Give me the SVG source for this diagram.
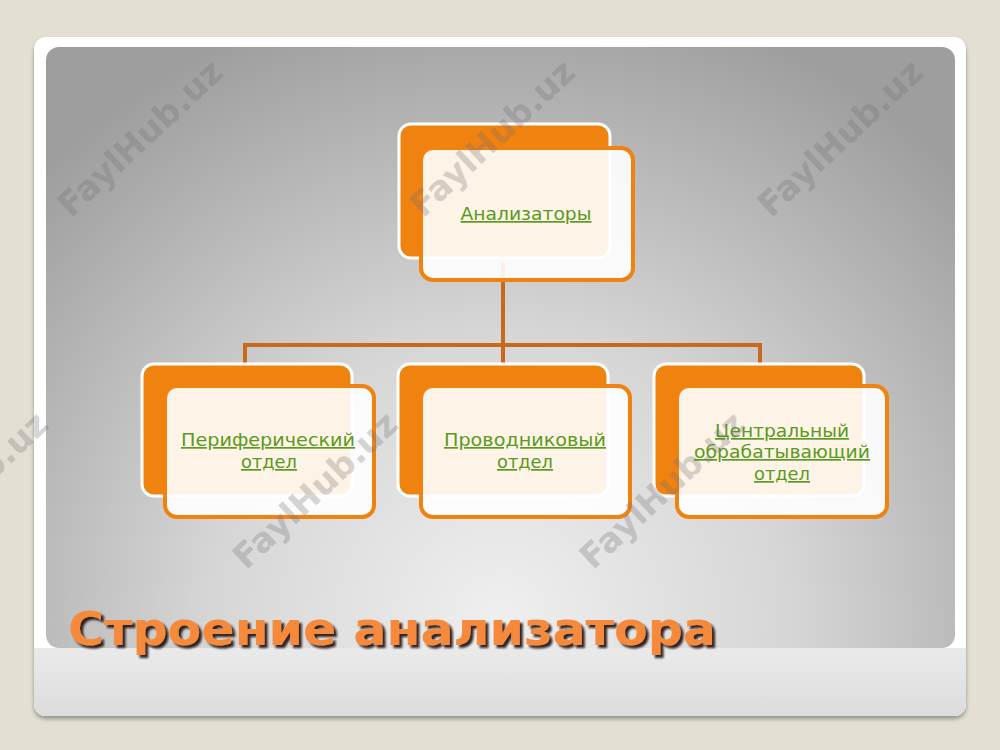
<svg xmlns="http://www.w3.org/2000/svg" width="1000" height="750" viewBox="0 0 1000 750">
  <defs>
    <radialGradient id="panelGrad" gradientUnits="userSpaceOnUse" cx="500" cy="620" r="640">
      <stop offset="0" stop-color="#efefef"/>
      <stop offset="0.45" stop-color="#d6d6d6"/>
      <stop offset="1" stop-color="#9e9e9e"/>
    </radialGradient>
    <linearGradient id="stripGrad" x1="0" y1="0" x2="0" y2="1">
      <stop offset="0" stop-color="#eaeaea"/>
      <stop offset="1" stop-color="#dcdcdc"/>
    </linearGradient>
    <filter id="shadow" x="-5%" y="-5%" width="110%" height="115%">
      <feDropShadow dx="0" dy="3" stdDeviation="2" flood-color="#000" flood-opacity="0.35"/>
    </filter>
    <filter id="tshadow" x="-5%" y="-20%" width="110%" height="150%">
      <feDropShadow dx="3" dy="3" stdDeviation="1" flood-color="#1a1008" flood-opacity="0.9"/>
    </filter>
  </defs>
  <style>
    .back { fill: #f0820f; stroke: #ffffff; stroke-width: 3; }
    .front { fill: #ffffff; fill-opacity: 0.9; stroke: #f0820f; stroke-width: 4; }
    .lbl { font-family: "DejaVu Sans", Verdana, sans-serif; font-size: 17px; fill: #5a9a20; text-anchor: middle; text-decoration: underline; }
    .wm { font-family: "DejaVu Sans", sans-serif; font-weight: bold; font-size: 34px; fill: #707070; fill-opacity: 0.3; text-anchor: middle; }
    .conn { stroke: #c8691c; stroke-width: 4; fill: none; }
    .title { font-family: "DejaVu Sans", Verdana, sans-serif; font-weight: bold; font-size: 47px; fill: #f58a3c; }
  </style>

  <rect x="0" y="0" width="1000" height="750" fill="#e3e0d3"/>

  <g id="card">
    <rect x="34" y="37" width="932" height="679" rx="12" fill="#ffffff" filter="url(#shadow)"/>
    <path d="M34 648 H966 V704 a12 12 0 0 1 -12 12 H46 a12 12 0 0 1 -12 -12 Z" fill="url(#stripGrad)"/>
    <rect x="46" y="47" width="909" height="601" rx="13" fill="url(#panelGrad)"/>
  </g>

  <g id="connectors">
    <line class="conn" x1="503" y1="262" x2="503" y2="347"/>
    <line class="conn" x1="243" y1="345" x2="762" y2="345"/>
    <line class="conn" x1="245" y1="343" x2="245" y2="366"/>
    <line class="conn" x1="503" y1="343" x2="503" y2="366"/>
    <line class="conn" x1="760" y1="343" x2="760" y2="366"/>
  </g>

  <g id="node-root">
    <rect class="back" x="399" y="124" width="211" height="134" rx="12"/>
    <rect class="front" x="421" y="148" width="212" height="132" rx="12"/>
    <text class="lbl" x="526" y="220" textLength="131" lengthAdjust="spacingAndGlyphs">Анализаторы</text>
  </g>

  <g id="node-peripheral">
    <rect class="back" x="142" y="364" width="210" height="132" rx="12"/>
    <rect class="front" x="165" y="386" width="209" height="131" rx="12"/>
    <text class="lbl" x="268" y="446" textLength="174" lengthAdjust="spacingAndGlyphs">Периферический</text>
    <text class="lbl" x="269" y="468" textLength="56" lengthAdjust="spacingAndGlyphs">отдел</text>
  </g>

  <g id="node-conductive">
    <rect class="back" x="398" y="364" width="210" height="132" rx="12"/>
    <rect class="front" x="421" y="386" width="209" height="131" rx="12"/>
    <text class="lbl" x="525" y="446" textLength="162" lengthAdjust="spacingAndGlyphs">Проводниковый</text>
    <text class="lbl" x="525" y="468" textLength="56" lengthAdjust="spacingAndGlyphs">отдел</text>
  </g>

  <g id="node-central">
    <rect class="back" x="654" y="364" width="210" height="132" rx="12"/>
    <rect class="front" x="677" y="386" width="210" height="131" rx="12"/>
    <text class="lbl" x="782" y="437" textLength="134" lengthAdjust="spacingAndGlyphs">Центральный</text>
    <text class="lbl" x="782" y="458" textLength="176" lengthAdjust="spacingAndGlyphs">обрабатывающий</text>
    <text class="lbl" x="782" y="480" textLength="56" lengthAdjust="spacingAndGlyphs">отдел</text>
  </g>

  <g id="title">
    <text class="title" x="68" y="645" filter="url(#tshadow)" textLength="648" lengthAdjust="spacingAndGlyphs">Строение анализатора</text>
  </g>

  <g id="watermarks">
    <text class="wm" transform="translate(140,138) rotate(-43)" dy="12">FaylHub.uz</text>
    <text class="wm" transform="translate(492,138) rotate(-43)" dy="12">FaylHub.uz</text>
    <text class="wm" transform="translate(840,138) rotate(-43)" dy="12">FaylHub.uz</text>
    <text class="wm" transform="translate(-35,490) rotate(-43)" dy="12">FaylHub.uz</text>
    <text class="wm" transform="translate(315,490) rotate(-43)" dy="12">FaylHub.uz</text>
    <text class="wm" transform="translate(662,490) rotate(-43)" dy="12">FaylHub.uz</text>
  </g>
</svg>
